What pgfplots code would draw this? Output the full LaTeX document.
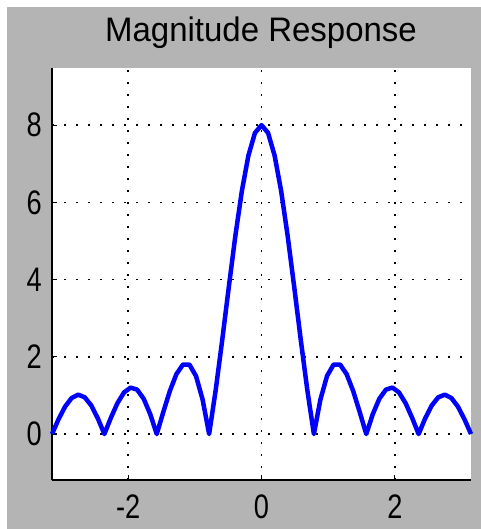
\documentclass[border=0pt]{standalone}
\usepackage{pgfplots}
\pgfplotsset{compat=1.18}
\usepackage{fontspec}
\usepackage{graphicx}
\setmainfont{Liberation Sans}
\definecolor{mgray}{RGB}{180,180,180}
\begin{document}
\begin{tikzpicture}[x=1bp,y=1bp]
\useasboundingbox (0,0) rectangle (481,529);
\fill[white] (0,0) rectangle (481,529);
\fill[mgray] (7,0) rectangle (481,522);
\node[anchor=base, font=\fontsize{34bp}{40bp}\selectfont] at (261,487) {\scalebox{0.97}[1]{Magnitude Response}};
\begin{axis}[
  at={(52bp,49bp)}, anchor=south west,
  scale only axis, width=419bp, height=412bp,
  xmin=-3.1416, xmax=3.1416, ymin=-1.19, ymax=9.48,
  axis background/.style={fill=white},
  axis x line*=bottom, axis y line*=left,
  axis line style={black, line width=1.5bp, -},
  xtick={-2,0,2}, xticklabels={{\scalebox{0.8}[1]{-2}},{\scalebox{0.8}[1]{0}},{\scalebox{0.8}[1]{2}}},
  ytick={0,2,4,6,8}, yticklabels={\scalebox{0.8}[1]{0},\scalebox{0.8}[1]{2},\scalebox{0.8}[1]{4},\scalebox{0.8}[1]{6},\scalebox{0.8}[1]{8}},
  tick align=inside, major tick length=5bp,
  tick style={black, line width=1.2bp},
  xmajorgrids, ymajorgrids,
  grid style={black, line width=1.5bp, dash pattern=on 1.5bp off 10.5bp},
  xticklabel style={anchor=north, inner sep=0pt, yshift=-15bp, font=\fontsize{34bp}{40bp}\selectfont},
  yticklabel style={anchor=east, inner sep=0pt, xshift=-10bp, font=\fontsize{34bp}{40bp}\selectfont},
  clip=false,
]
\addplot[blue, line width=4.5bp, line join=round] coordinates {
(-3.1416,0) (-3.0434,0.383) (-2.9452,0.711) (-2.8471,0.934) (-2.7489,1.020) (-2.6507,0.952) (-2.5525,0.739) (-2.4544,0.406) (-2.3562,0)
(-2.2580,0.423) (-2.1598,0.802) (-2.0617,1.077) (-1.9635,1.203) (-1.8653,1.150) (-1.7671,0.915) (-1.6690,0.516) (-1.5708,0)
(-1.4726,0.570) (-1.3744,1.115) (-1.2763,1.551) (-1.1781,1.800) (-1.0799,1.797) (-0.9817,1.500) (-0.8836,0.895) (-0.7854,0)
(-0.6872,1.136) (-0.5890,2.436) (-0.4909,3.802) (-0.3927,5.126) (-0.2945,6.296) (-0.1963,7.214) (-0.0982,7.799) (0,8)
(0.0982,7.799) (0.1963,7.214) (0.2945,6.296) (0.3927,5.126) (0.4909,3.802) (0.5890,2.436) (0.6872,1.136) (0.7854,0)
(0.8836,0.895) (0.9817,1.500) (1.0799,1.797) (1.1781,1.800) (1.2763,1.551) (1.3744,1.115) (1.4726,0.570) (1.5708,0)
(1.6690,0.516) (1.7671,0.915) (1.8653,1.150) (1.9635,1.203) (2.0617,1.077) (2.1598,0.802) (2.2580,0.423) (2.3562,0)
(2.4544,0.406) (2.5525,0.739) (2.6507,0.952) (2.7489,1.020) (2.8471,0.934) (2.9452,0.711) (3.0434,0.383) (3.1416,0)
};
\end{axis}
\end{tikzpicture}
\end{document}
